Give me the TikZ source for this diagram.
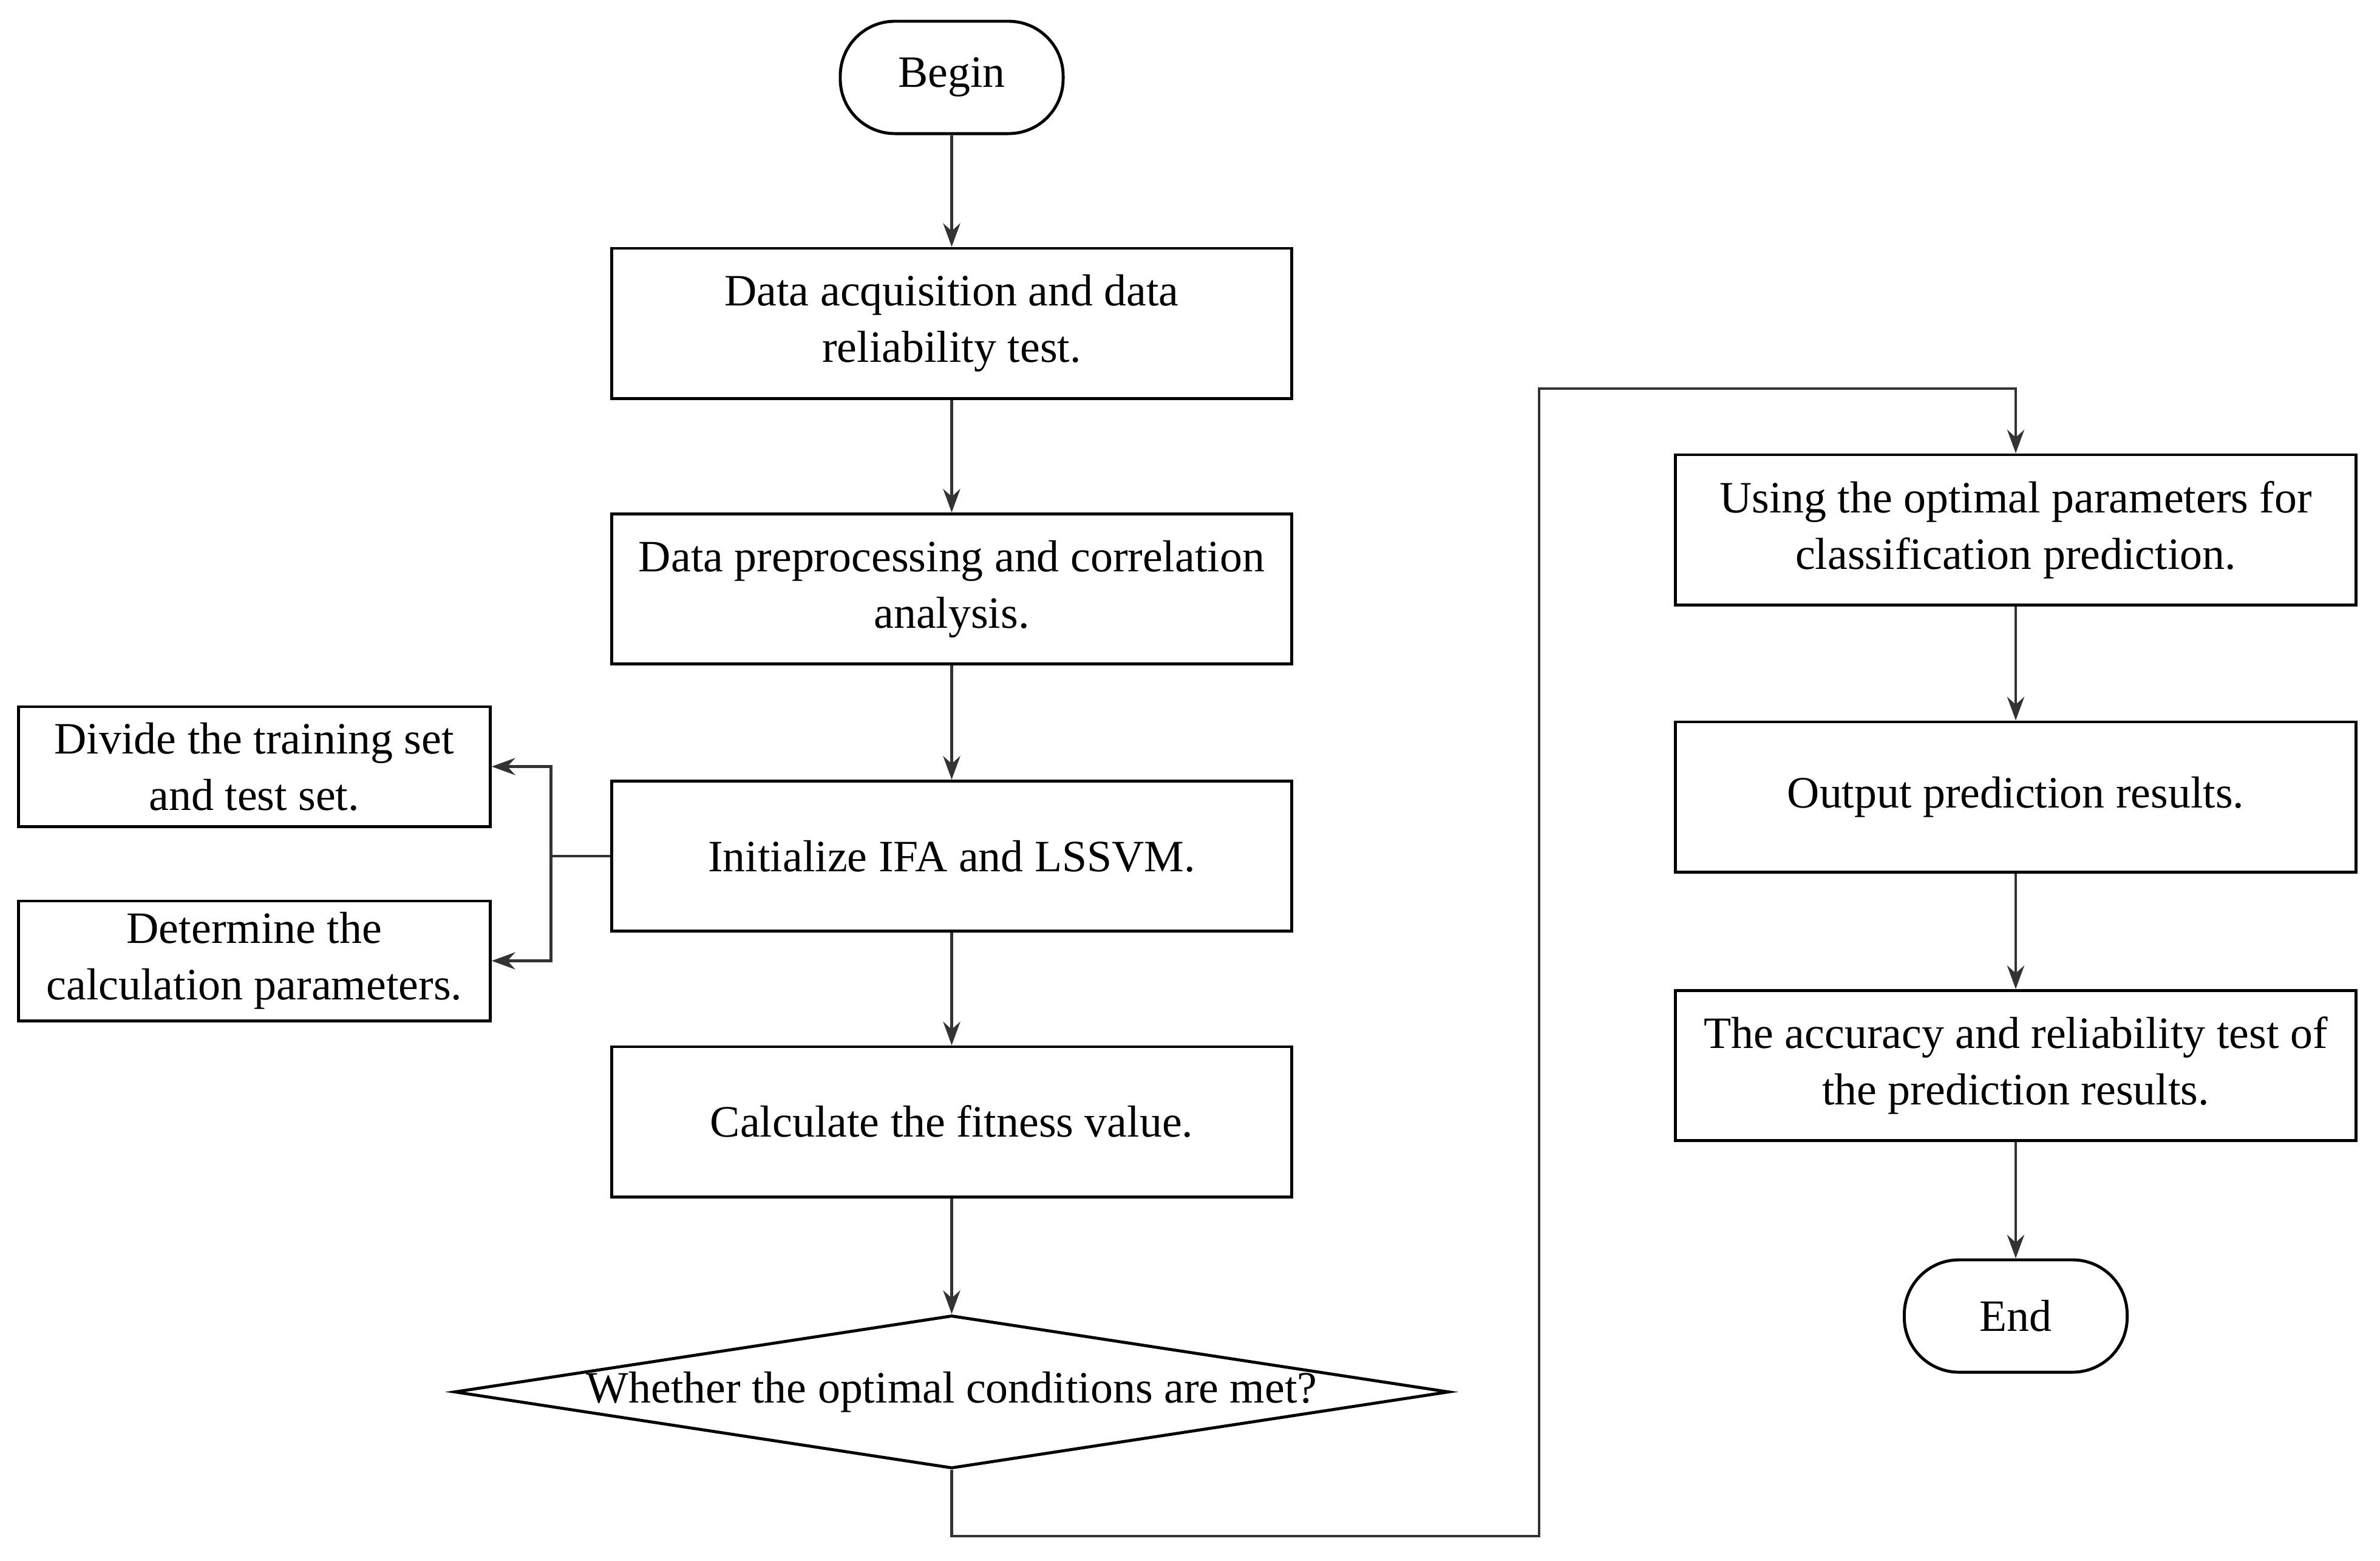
\documentclass[tikz,border=0pt]{standalone}
\usepackage{fontspec}
\setmainfont{Liberation Serif}
\usetikzlibrary{shapes.geometric,arrows.meta}
\begin{document}
\begin{tikzpicture}[x=0.025cm,y=-0.025cm,
 every node/.style={font=\fontsize{21}{26.5}\selectfont},
 box/.style={draw,line width=1.4pt,minimum width=11.2cm,minimum height=2.47cm,align=center,inner sep=0pt},
 sbox/.style={draw,line width=1.4pt,minimum width=7.77cm,minimum height=1.97cm,align=center,inner sep=0pt},
 term/.style={draw,line width=1.4pt,rounded corners=0.9cm,minimum width=3.67cm,minimum height=1.85cm},
 arr/.style={-{Stealth[length=11pt,width=8pt]},line width=1.4pt,draw=black!80}]
\useasboundingbox (0,0) rectangle (1568,1028);
\node[term] (begin) at (627,51) {Begin};
\node[box] (b1) at (627,213) {Data acquisition and data\\reliability test.};
\node[box] (b2) at (627,388) {Data preprocessing and correlation\\analysis.};
\node[box] (b3) at (627,564) {Initialize IFA and LSSVM.};
\node[box] (b4) at (627,739) {Calculate the fitness value.};
\node[diamond,draw,line width=1.4pt,aspect=6.5,minimum width=16.3cm,minimum height=2.52cm,inner sep=0pt] (d) at (627,917) {Whether the optimal conditions are met?};
\node[sbox] (l1) at (167.5,505) {Divide the training set\\and test set.};
\node[sbox] (l2) at (167.5,633) {Determine the\\calculation parameters.};
\node[box] (r1) at (1328,349) {Using the optimal parameters for\\classification prediction.};
\node[box] (r2) at (1328,525) {Output prediction results.};
\node[box] (r3) at (1328,702) {The accuracy and reliability test of\\the prediction results.};
\node[term] (end) at (1328,867) {End};
\coordinate (j) at (363,564);
\draw[arr] (begin) -- (b1);
\draw[arr] (b1) -- (b2);
\draw[arr] (b2) -- (b3);
\draw[arr] (b3) -- (b4);
\draw[arr] (b4) -- (d);
\draw[line width=1.4pt,draw=black!80] (b3.west) -- (j);
\draw[arr] (j) |- (l1.east);
\draw[arr] (j) |- (l2.east);
\draw[arr] (d.south) -- (627,1012) -- (1014,1012) -- (1014,256) -- (1328,256) -- (r1.north);
\draw[arr] (r1) -- (r2);
\draw[arr] (r2) -- (r3);
\draw[arr] (r3) -- (end);
\end{tikzpicture}
\end{document}
